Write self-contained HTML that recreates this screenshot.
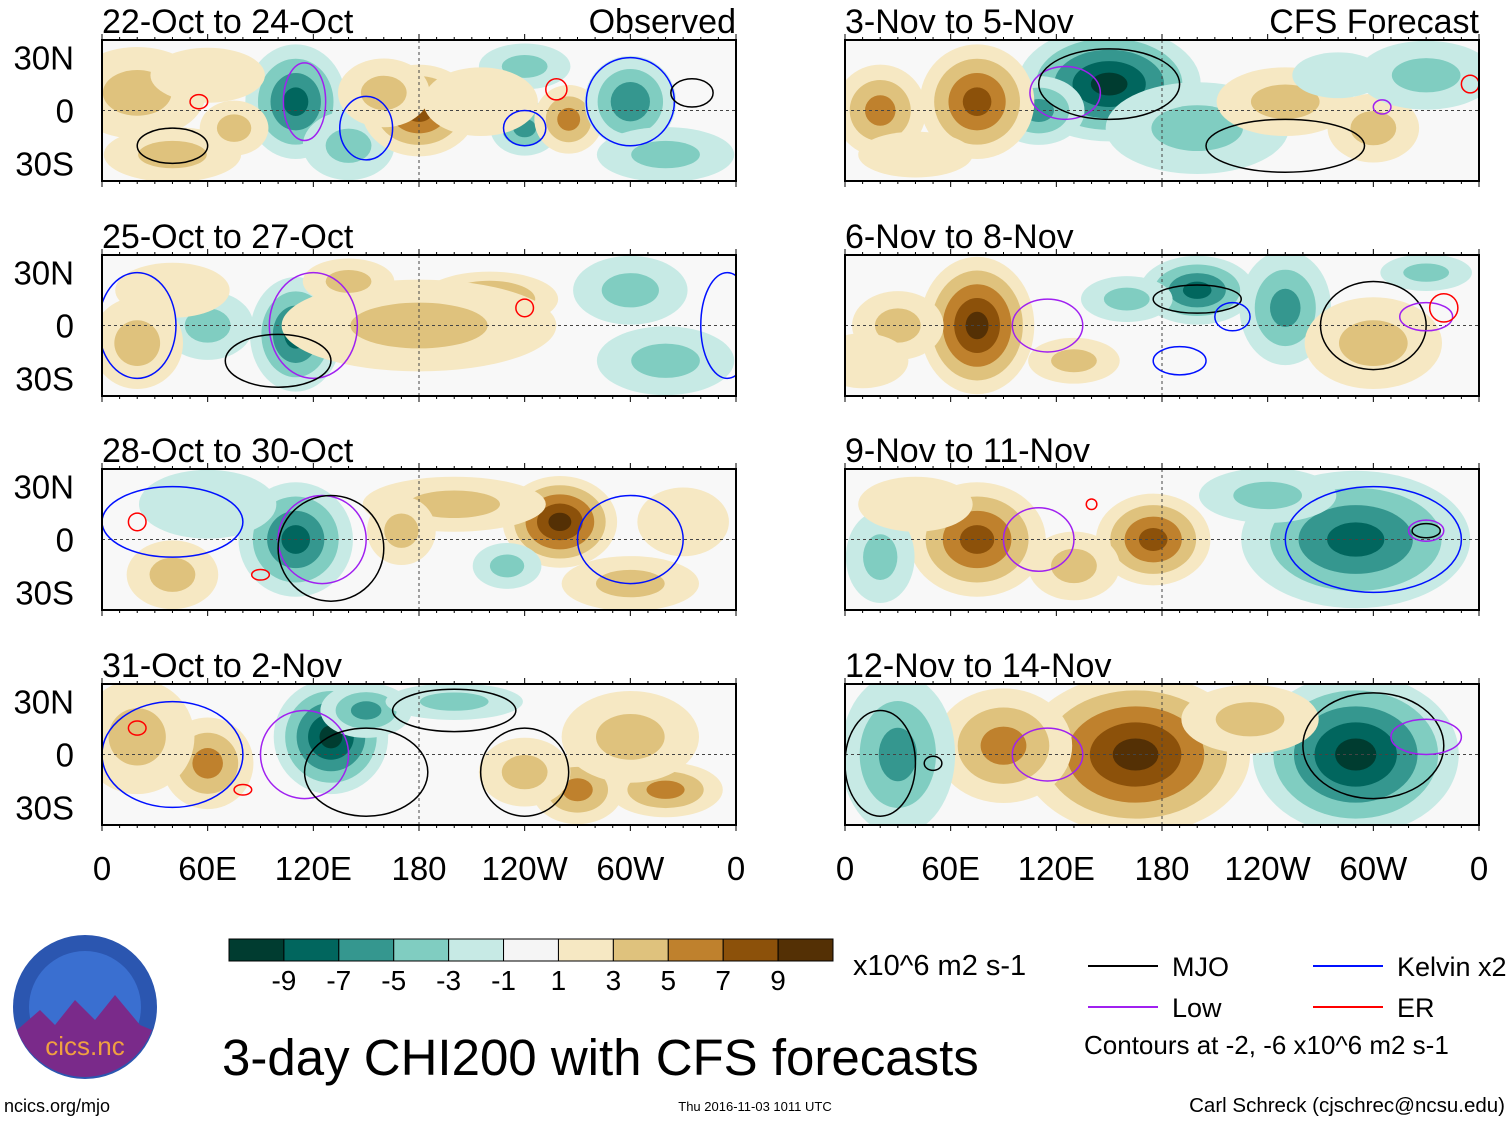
<!DOCTYPE html>
<html><head><meta charset="utf-8"><style>
body{margin:0;background:#fff;font-family:"Liberation Sans",sans-serif}
svg{display:block}
</style></head><body>
<svg id="fig" width="1510" height="1121" viewBox="0 0 1510 1121" xmlns="http://www.w3.org/2000/svg" font-family="Liberation Sans, sans-serif"></svg>
<script>
const levelLabels = ["-9","-7","-5","-3","-1","1","3","5","7","9"];
const levelColors = ["#003c30","#01665e","#35978f","#80cdc1","#c7eae5","#f5f5f5","#f6e8c3","#dfc27d","#bf812d","#8c510a","#543005"];
const panelTitles = ["22-Oct to 24-Oct","3-Nov to 5-Nov","25-Oct to 27-Oct","6-Nov to 8-Nov","28-Oct to 30-Oct","9-Nov to 11-Nov","31-Oct to 2-Nov","12-Nov to 14-Nov"];
const xTickLabels = ["0","60E","120E","180","120W","60W","0"];
const xTickLons = [0,60,120,180,240,300,360];
const yTickLabels = ["30N","0","30S"];
const yTickLats = [30,0,-30];
// anomaly blobs per panel: [lon, lat, lonRadius, latRadius, peakValue]
const blobs0 = [[20,10,30,20,3],[40,-25,30,12,3],[110,5,22,25,-7],[140,-20,20,15,-3],[180,0,25,20,7],[160,10,20,15,3],[240,-10,15,12,-5],[265,-5,15,15,5],[300,5,20,20,-6],[320,-25,30,12,-3],[240,25,20,10,-3],[75,-10,15,12,3],[215,5,25,15,2],[60,20,25,12,2]];
const blobs1 = [[150,15,40,25,-9],[110,0,20,15,-5],[75,5,25,25,7],[20,0,20,20,5],[200,-10,40,20,-3],[250,5,30,15,3],[300,-10,20,15,3],[330,20,30,15,-3],[40,-25,25,10,2],[280,20,20,10,-2]];
const blobs2 = [[110,-5,20,25,-7],[60,0,20,15,-3],[20,-10,20,20,3],[220,15,30,12,5],[180,0,60,20,3],[300,20,25,15,-3],[320,-20,30,15,-3],[140,25,20,10,3],[40,20,25,12,2]];
const blobs3 = [[75,0,25,30,9],[30,0,20,15,3],[200,20,25,15,-7],[250,10,20,25,-5],[160,15,20,10,-3],[300,-10,30,20,3],[330,30,20,8,-3],[130,-20,20,10,3],[10,-20,20,12,2]];
const blobs4 = [[110,0,25,25,-7],[260,10,25,20,9],[200,20,40,12,3],[40,-20,20,15,3],[300,-25,30,12,3],[60,20,30,15,-2],[230,-15,15,10,-3],[170,5,15,15,3],[330,10,20,15,2]];
const blobs5 = [[75,0,30,25,7],[175,0,25,20,7],[130,-15,20,15,3],[290,0,50,30,-7],[20,-10,15,20,-3],[240,25,30,12,-3],[40,20,25,12,2]];
const blobs6 = [[130,10,25,25,-9],[150,25,20,12,-5],[60,-5,20,20,5],[20,10,25,25,3],[270,-20,20,15,5],[320,-20,25,12,5],[300,10,30,20,3],[240,-10,20,15,3],[200,30,30,8,-3]];
const blobs7 = [[165,0,50,35,9],[90,5,30,25,5],[290,0,45,35,-9],[30,0,25,35,-5],[230,20,30,15,3]];
const panelBlobs = [blobs0,blobs1,blobs2,blobs3,blobs4,blobs5,blobs6,blobs7];
// contours per panel: [lon, lat, lonRadius, latRadius, type]
const contours0 = [[115,5,12,22,"low"],[40,-20,20,10,"mjo"],[150,-10,15,18,"kelvin"],[240,-10,12,10,"kelvin"],[300,5,25,25,"kelvin"],[55,5,5,4,"er"],[258,12,6,6,"er"],[335,10,12,8,"mjo"]];
const contours1 = [[125,10,20,15,"low"],[150,15,40,20,"mjo"],[250,-20,45,15,"mjo"],[305,2,5,4,"low"],[355,15,5,5,"er"]];
const contours2 = [[120,0,25,30,"low"],[100,-20,30,15,"mjo"],[20,0,22,30,"kelvin"],[240,10,5,5,"er"],[355,0,15,30,"kelvin"]];
const contours3 = [[115,0,20,15,"low"],[200,15,25,8,"mjo"],[300,0,30,25,"mjo"],[330,5,15,8,"low"],[340,10,8,8,"er"],[220,5,10,8,"kelvin"],[190,-20,15,8,"kelvin"]];
const contours4 = [[125,0,25,25,"low"],[130,-5,30,30,"mjo"],[20,10,5,5,"er"],[90,-20,5,3,"er"],[40,10,40,20,"kelvin"],[300,0,30,25,"kelvin"]];
const contours5 = [[110,0,20,18,"low"],[300,0,50,30,"kelvin"],[330,5,10,6,"low"],[330,5,8,4,"mjo"],[140,20,3,3,"er"]];
const contours6 = [[115,0,25,25,"low"],[150,-10,35,25,"mjo"],[200,25,35,12,"mjo"],[40,0,40,30,"kelvin"],[240,-10,25,25,"mjo"],[20,15,5,4,"er"],[80,-20,5,3,"er"]];
const contours7 = [[115,0,20,15,"low"],[300,5,40,30,"mjo"],[330,10,20,10,"low"],[20,-5,20,30,"mjo"],[50,-5,5,4,"mjo"]];
const panelContours = [contours0,contours1,contours2,contours3,contours4,contours5,contours6,contours7];

const NS="http://www.w3.org/2000/svg";
const svg=document.getElementById('fig');
function mk(tag,attrs,parent){const e=document.createElementNS(NS,tag);for(const k in attrs)e.setAttribute(k,attrs[k]);(parent||svg).appendChild(e);return e;}
const colX=[102,845], PW=634, rowY=[40,255,469,684], PH=141;
const BLOB_SCALE=1.3;
const strokeCol={mjo:"#000",kelvin:"#0010ff",low:"#a020f0",er:"#ff0000"};
function colorFor(v){if(v>=9)return levelColors[10];if(v<=-9)return levelColors[0];const i=Math.floor((v+9)/2)+1;return levelColors[Math.max(0,Math.min(10,i))];}

for(let p=0;p<8;p++){
  const col=p%2,row=Math.floor(p/2);
  const x0=colX[col],y0=rowY[row];
  const lonX=lon=>x0+lon/360*PW;
  const latY=lat=>y0+PH/2-lat/80*PH;
  const g=mk('g',{});
  
  
  const cid='clip'+p;
  const cp=mk('clipPath',{id:cid},g);mk('rect',{x:x0,y:y0,width:PW,height:PH},cp);
  mk('rect',{x:x0,y:y0,width:PW,height:PH,fill:'#f8f8f8'},g);
  const inner=mk('g',{'clip-path':'url(#'+cid+')'},g);
  panelBlobs[p].forEach(b=>{
    const [lon,lat,rl,ra,v]=b;const s=Math.sign(v),m=Math.abs(v);
    for(let lv=1;lv<=m;lv+=2){
      const f=BLOB_SCALE*(1-(lv-1)/(m+1));
      const e=mk('ellipse',{cx:lonX(lon),cy:latY(lat),rx:rl*f/360*PW,ry:ra*f/80*PH,fill:colorFor(s*(lv+0.5))},inner);
      
      
    }
  });
  mk('line',{x1:x0,y1:latY(0),x2:x0+PW,y2:latY(0),stroke:'#444','stroke-dasharray':'3,3','stroke-width':1},inner);
  mk('line',{x1:lonX(180),y1:y0,x2:lonX(180),y2:y0+PH,stroke:'#444','stroke-dasharray':'3,3','stroke-width':1},inner);
  panelContours[p].forEach(c=>{
    const e=mk('ellipse',{cx:lonX(c[0]),cy:latY(c[1]),rx:c[2]/360*PW,ry:c[3]/80*PH,fill:'none',stroke:strokeCol[c[4]],'stroke-width':1.5},inner);
    
    
  });
  mk('rect',{x:x0,y:y0,width:PW,height:PH,fill:'none',stroke:'#000','stroke-width':2},g);
  for(let l=0;l<=360;l+=10){const h=(l%60==0)?6:3;mk('line',{x1:lonX(l),y1:y0,x2:lonX(l),y2:y0-h,stroke:'#000'},g);mk('line',{x1:lonX(l),y1:y0+PH,x2:lonX(l),y2:y0+PH+h,stroke:'#000'},g);}
  const t=mk('text',{x:x0,y:y0-7,'font-size':34,fill:'#000'},g);t.textContent=panelTitles[p];
  
  if(row==0){const t2=mk('text',{x:x0+PW,y:y0-7,'font-size':34,'text-anchor':'end'},g);t2.textContent=col==0?"Observed":"CFS Forecast";
    }
  if(col==0){yTickLats.forEach((lt,i)=>{const yt=mk('text',{x:74,y:latY(lt)+12,'font-size':33,'text-anchor':'end'},g);yt.textContent=yTickLabels[i];
    });}
  if(row==3){xTickLons.forEach((ln,i)=>{const xt=mk('text',{x:lonX(ln),y:880,'font-size':33,'text-anchor':'middle'},g);xt.textContent=xTickLabels[i];
    });}
}
const cb=mk('g',{});
const cbX=229,cbW=604,cbY=939,cbH=22,bw=cbW/levelColors.length;
levelColors.forEach((c,i)=>mk('rect',{x:cbX+i*bw,y:cbY,width:bw,height:cbH,fill:c,stroke:'#000','stroke-width':1},cb));
levelLabels.forEach((l,i)=>{const t=mk('text',{x:cbX+(i+1)*bw,y:990,'font-size':28,'text-anchor':'middle'},cb);t.textContent=l;});
const u=mk('text',{x:853,y:975,'font-size':29},cb);u.textContent="x10^6 m2 s-1";
const lg=mk('g',{});
[[1088,966,"mjo","MJO"],[1313,966,"kelvin","Kelvin x2"],[1088,1007,"low","Low"],[1313,1007,"er","ER"]].forEach(a=>{
  mk('line',{x1:a[0],y1:a[1],x2:a[0]+70,y2:a[1],stroke:strokeCol[a[2]],'stroke-width':2},lg);
  const t=mk('text',{x:a[0]+84,y:a[1]+10,'font-size':27},lg);t.textContent=a[3];});
const ct=mk('text',{x:1084,y:1054,'font-size':26},lg);ct.textContent="Contours at -2, -6 x10^6 m2 s-1";
const ti=mk('text',{x:222,y:1075,'font-size':51},null);ti.textContent="3-day CHI200 with CFS forecasts";

const lo=mk('g',{});
mk('circle',{cx:85,cy:1007,r:72,fill:'#2b56b0'},lo);
mk('circle',{cx:85,cy:1007,r:56,fill:'#3a6fd0'},lo);
mk('path',{d:"M17,1030 L40,1010 L55,1025 L75,1000 L95,1020 L115,995 L140,1025 L152,1030 A72,72 0 0 1 17,1030 Z",fill:'#7a2a8a'},lo);
const lt=mk('text',{x:85,y:1055,'font-size':26,'text-anchor':'middle',fill:'#f0a040'},lo);lt.textContent="cics.nc";
const f1=mk('text',{x:4,y:1112,'font-size':18},null);f1.textContent="ncics.org/mjo";

const f2=mk('text',{x:755,y:1111,'font-size':13,'text-anchor':'middle'},null);f2.textContent="Thu 2016-11-03 1011 UTC";

const f3=mk('text',{x:1505,y:1112,'font-size':20.5,'text-anchor':'end'},null);f3.textContent="Carl Schreck (cjschrec@ncsu.edu)";

</script>
</body></html>
